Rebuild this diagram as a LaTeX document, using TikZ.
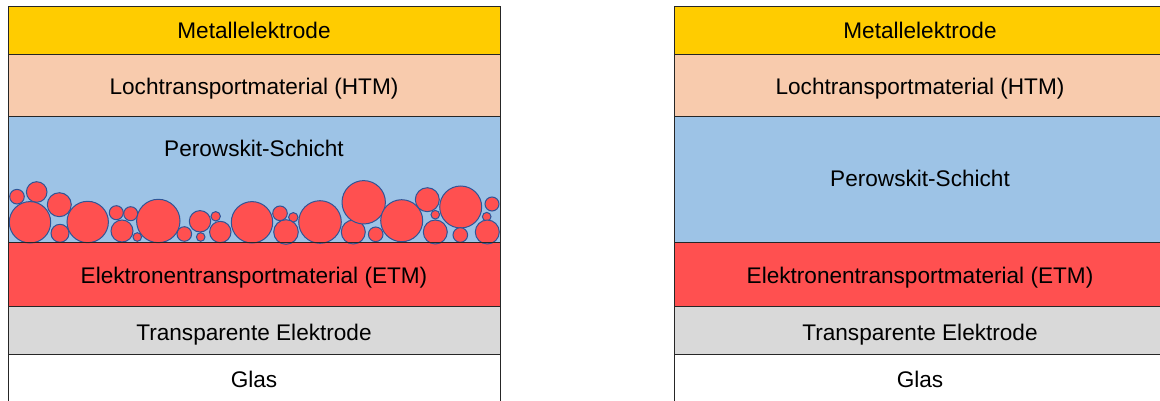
\documentclass[tikz,border=0pt]{standalone}
\usepackage{fontspec}
\setmainfont{Liberation Sans}
\definecolor{metal}{HTML}{FFCC00}
\definecolor{htm}{HTML}{F8CBAD}
\definecolor{perov}{HTML}{9DC3E6}
\definecolor{etm}{HTML}{FF5050}
\definecolor{tco}{HTML}{D9D9D9}
\definecolor{grainedge}{HTML}{2F5597}
\definecolor{edge}{HTML}{262626}
\tikzset{
  layer/.style={draw=edge, line width=1pt},
  lbl/.style={font=\fontsize{22.6}{27}\selectfont, inner sep=0pt, anchor=base},
  grain/.style={fill=etm, draw=grainedge, line width=1pt}
}
\begin{document}
\begin{tikzpicture}[x=1pt, y=-1pt]
\useasboundingbox (0,0) rectangle (1160,401);
\clip (0,0) rectangle (1160,401);

% layer stack with nanostructured perovskite (left) and planar stack (right)
\foreach \xo/\tag in {8/L, 674/R} {
  \begin{scope}[xshift=\xo pt]
    \path[layer, fill=metal] (0,7) rectangle (492,55);
    \path[layer, fill=htm]   (0,55) rectangle (492,117);
    \path[layer, fill=perov] (0,117) rectangle (492,242);
    \path[layer, fill=etm]   (0,242) rectangle (492,306);
    \path[layer, fill=tco]   (0,306) rectangle (492,354);
    \path[layer, fill=white] (0,354) rectangle (492,410);
  \end{scope}
}

% ETM grains penetrating the perovskite layer
\foreach \cx/\cy/\r in {
  17/196.7/7.3, 36.7/192/10.3, 59.3/204.7/12, 30/222.3/20.7, 60/233.3/9,
  87.7/222/20.7, 116.3/212.7/7, 130.7/213.7/7, 122/231/11, 137.3/237/4.3,
  158.3/221/21.7, 184.3/234/7.3, 200/221.3/10.7, 200.7/237/4.3, 215.7/216.3/4.7,
  220.3/232/10.7, 252/222.3/20.7, 280/213.3/7.3, 293.3/217.3/4.7, 286/232/12.3,
  320/222/21.3, 353.3/232/12, 363.7/202.3/21.7, 375.7/234.3/7.3, 401.7/220.7/21,
  427.3/199.7/12, 435.3/214.7/4.3, 435.3/232/12, 460.7/207/21, 460.3/235/7.3,
  492/204/7, 486.7/216.7/4.3, 487.3/232/12}
  \path[grain] (\cx,\cy) circle[radius=\r];
\draw[layer, fill=none] (8,117) rectangle (500,242);

% labels, left stack (placed on their baselines)
\node[lbl] (metL) at (254,38.3)  {Metallelektrode};
\node[lbl] (htmL) at (254,95)    {Lochtransportmaterial (HTM)};
\node[lbl] (perL) at (254,156.7) {Perowskit-Schicht};
\node[lbl] (etmL) at (254,283.3) {Elektronentransportmaterial (ETM)};
\node[lbl] (tcoL) at (254,340)   {Transparente Elektrode};
\node[lbl] (glaL) at (254,387.3) {Glas};

% labels, right stack
\node[lbl] (metR) at (920,38.3)  {Metallelektrode};
\node[lbl] (htmR) at (920,95)    {Lochtransportmaterial (HTM)};
\node[lbl] (perR) at (920,186.7) {Perowskit-Schicht};
\node[lbl] (etmR) at (920,283.3) {Elektronentransportmaterial (ETM)};
\node[lbl] (tcoR) at (920,340)   {Transparente Elektrode};
\node[lbl] (glaR) at (920,387.3) {Glas};
\end{tikzpicture}
\end{document}
